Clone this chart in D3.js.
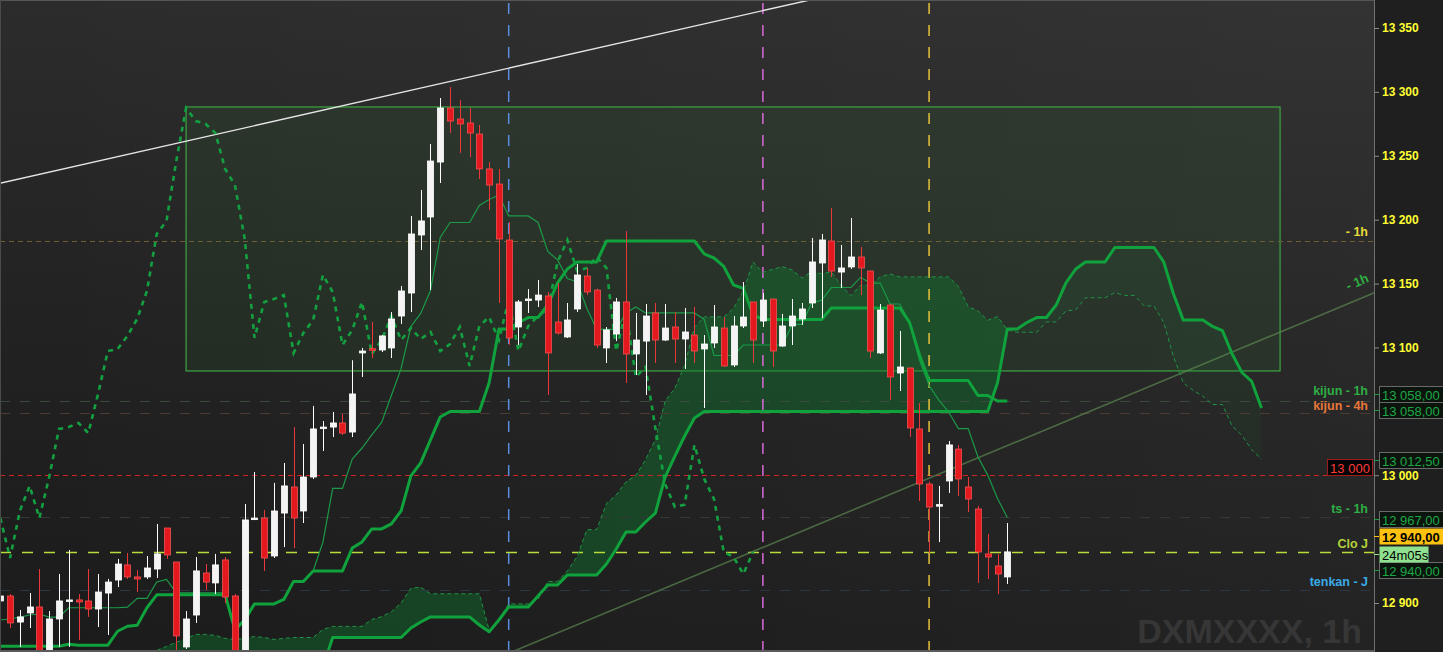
<!DOCTYPE html>
<html><head><meta charset="utf-8">
<script src="https://cdn.jsdelivr.net/npm/d3@7"></script>
<style>
html,body{margin:0;padding:0;background:#1f1f1f;overflow:hidden}
svg{display:block}
text{font-family:"Liberation Sans",Arial,sans-serif}
</style></head><body>
<svg id="chart" width="1443" height="652"></svg>
<script>
// ---- hourly candles (index 0 = first visible bar) ----
const openP = [12901.6,12905.5,12885.1,12892.2,12896.9,12858,12887.5,12902,12902.4,12901.6,
12895.3,12907.8,12918,12929.8,12920.4,12920.4,12926.6,12958.7,12932.1,12865.6,
12890.6,12923.5,12915.7,12933.7,12905.5,12846,12966,12966.5,12936.8,12970.4,
12990.8,12972,12998.6,13037,13037.7,13040.9,13033.8,13095.7,13099,13098,
13099.6,13124.6,13142.6,13188,13202.1,13245.1,13287.4,13278.8,13275.7,13267,
13239.7,13227.9,13184.1,13116,13137.5,13137.1,13140.3,13119.9,13108.2,13130.1,
13155.9,13144.9,13099.6,13110.5,13135.6,13094.9,13105,13127,13105.8,13116,
13106.6,13109.7,13098.8,13103.5,13115.2,13086.3,13116.8,13135.6,13120.7,13137.9,
13101.1,13116.8,13122.3,13134.8,13166.1,13183.3,13159,13163,13170.8,13159.8,
13095.7,13133.2,13080,13083.9,13036.2,12993.1,12976.7,12995.5,13020.5,12990.8,
12973.6,12938.4,12929,12920.4];
const highP = [12908,12907,12894.5,12907.8,12926.6,12893.7,12922.7,12941.5,12907,12926.6,
12922.7,12918.8,12934.5,12939.1,12925.8,12936.8,12961.8,12958.7,12932.1,12893.7,
12936,12930.5,12938.4,12936,12907,12977.5,13002.5,12972.8,12994,13009.6,
13037.7,13024.4,13054.2,13042.4,13049.5,13047.9,13090,13099.6,13120,13109.7,
13127.7,13148.1,13202.9,13223.2,13259.2,13295.2,13303.8,13293.7,13287.4,13274.1,
13245.1,13239.7,13198.2,13137.1,13145.7,13152.8,13143.4,13150.4,13134.8,13165.3,
13162.2,13146,13116,13138.7,13191.1,13127,13134,13134.8,13134,13127.7,
13130.9,13131.7,13109.7,13133.2,13123.8,13124.6,13151.2,13135.6,13142.6,13137.9,
13126.2,13137.9,13134.8,13185.7,13188.8,13209.1,13180.2,13201.3,13178.6,13160,
13134,13134,13112.9,13084.5,13056.5,12995,12991.6,13026.8,13023.7,12998.6,
12975.9,12954,12938.4,12962.6];
const lowP = [12896,12880.4,12865.6,12880.4,12851,12852,12865.6,12865.6,12871.1,12889.1,
12881.2,12875,12912.5,12918.8,12908.6,12918.8,12919.6,12934.5,12854,12864,
12884.4,12910.2,12907,12900,12796,12841,12965,12925.1,12935.2,12943.8,
12943,12962.6,12997.1,13019,13029.9,13031.5,13029.9,13076.9,13091.7,13096.4,
13091.7,13118.4,13127.7,13176.3,13144.9,13228.7,13267.8,13252.2,13249,13231.8,
13207.6,13134.8,13102,13101.9,13127,13131.7,13062.8,13110,13107.4,13127.7,
13141,13099.6,13087.8,13105,13072.2,13078.4,13062.8,13087.8,13105,13087.8,
13083.1,13087.8,13052.6,13099.6,13084.7,13084.7,13115.2,13087.8,13116,13084.7,
13100.4,13101.9,13117.6,13130.9,13123,13155.1,13146.5,13161.4,13141,13091.7,
13094.9,13058.9,13065.9,13030,12979.8,12939,12947.7,12986.1,12983.7,12971.2,
12915.7,12918.8,12907,12914.9];
const closeP = [12905.5,12884.4,12889.1,12896.9,12856,12887.5,12901.6,12902.4,12900.8,12895.3,
12908.6,12916.4,12930.5,12920.4,12918.8,12927.4,12938.4,12937.6,12874.2,12887.5,
12925.1,12916.4,12929.8,12904.7,12845,12965,12966.5,12935.2,12972,12991.6,
12966.5,12998.6,13036.2,13037.7,13040.9,13033,13063.6,13097.2,13098.8,13109,
13122.3,13144.2,13188.8,13199,13245.9,13287.4,13277.2,13274.9,13267.8,13239.7,
13227.1,13184.9,13107.4,13135.6,13137.9,13141,13095.7,13111.3,13121.5,13156.7,
13143.4,13101.9,13113.7,13135.6,13094.9,13105.8,13124.6,13105.8,13115.2,13106.6,
13112.1,13097.2,13102.7,13116,13085.5,13116.8,13123.8,13105.8,13137.1,13097.2,
13116.8,13124.6,13130.1,13166.9,13184.1,13159.8,13162.2,13170.8,13162.2,13097.2,
13129.3,13076.9,13084.7,13037,12993.1,12975.1,12977,13023.7,12997.1,12981.4,
12939.9,12936,12922.7,12940];

// ---- Ichimoku lines ----
const tenkan = [12886.7,12887.5,12889,12890.6,12891.4,12889,12889,12896.3,12896.3,12896.3,
12896.3,12896.3,12896.3,12896.8,12903.6,12903.6,12916.5,12918.4,12907.9,12907.9,
12907.9,12907.9,12907.9,12907.9,12878.9,12886.8,12899.3,12899.3,12899.3,12902.8,
12916.9,12916.9,12925.1,12947.6,12989.7,12989.7,13012.6,13021.3,13031.5,13041.3,
13062.4,13083.6,13116.4,13126.6,13144.6,13186.1,13197.8,13197.8,13197.8,13211.1,
13215.8,13219.3,13202.9,13202.9,13202.9,13197.8,13175.1,13168.5,13154,13151.3,
13130.5,13114.1,13114.1,13114.1,13127,13131.7,13127,13127,13127,13127,
13127,13127,13121.9,13093.7,13093.7,13093.7,13101.9,13101.9,13101.9,13101.9,
13101.9,13118,13118,13135.2,13136.8,13146.9,13146.9,13146.9,13154.8,13150.4,
13150.4,13134,13134,13119.6,13090.6,13070.2,13058.8,13049.5,13036.5,13036.5,
13014.3,13000.1,12981.8,12966.9];
const kijun = [12866.2,12866.2,12866.2,12866.2,12866.2,12866.2,12866.2,12867.7,12867,12867,
12867,12867,12877.9,12881.8,12882.5,12896.3,12906.4,12906.4,12906.4,12906.4,
12906.4,12906.4,12906.4,12906.4,12878.9,12886.8,12899.3,12899.3,12899.3,12902.8,
12916.9,12916.9,12925.1,12925.1,12925.1,12925.1,12943,12947.8,12958,12958,
12961.9,12972.1,12999.5,13009.6,13027.6,13045.6,13049.9,13049.9,13049.9,13049.9,
13072.4,13114.5,13114.5,13119.5,13123.4,13123.4,13133.2,13150.5,13161.4,13166.9,
13166.9,13166.9,13183.3,13183.3,13183.3,13183.3,13183.3,13183.3,13183.3,13183.3,
13183.3,13183.3,13173.2,13170,13163.4,13148.9,13146.2,13125.4,13121.9,13121.9,
13121.9,13121.9,13121.9,13121.9,13121.9,13130.9,13130.9,13130.9,13130.9,13130.9,
13130.9,13130.9,13130.9,13119.6,13094.5,13074.1,13074.1,13074.1,13074.1,13074.1,
13062.4,13062.4,13058.1,13058.1];
// leading spans run 26 bars past the last candle
const senkouA = [12855,12855,12855,12855,12855,12855,12855,12855,12855,12855,
12855,12855,12855,12855,12855,12855,12862.9,12866,12869.2,12872.3,
12875.4,12875.4,12874.6,12872.3,12871.5,12872.3,12873.8,12873,12871.5,12872.3,
12873,12873,12873,12879.3,12881.7,12881.7,12881.7,12881.7,12887.1,12889.3,
12893.1,12900,12911.5,12912.4,12907.2,12907.2,12907.2,12907.2,12907.2,12907.2,
12878.9,12886.8,12899.3,12899.3,12899.3,12902.8,12916.9,12916.9,12925.1,12936.4,
12957.4,12957.4,12977.8,12984.6,12994.8,12999.7,13012.2,13027.9,13058,13068.1,
13086.1,13115.9,13123.9,13123.9,13123.9,13130.5,13144.1,13166.9,13158.7,13161.2,
13163.2,13160.6,13154.2,13159.5,13157.7,13159.1,13148.7,13140.5,13148.7,13148.7,
13155.2,13157.5,13155.2,13155.2,13155.2,13155.2,13155.2,13155.2,13147.6,13131.9,
13128.6,13121.3,13124.1,13113.7,13111.9,13111.9,13111.9,13120,13120,13128.6,
13129.4,13138.9,13138.9,13138.9,13142.9,13140.7,13140.7,13132.5,13132.5,13119.6,
13092.6,13072.2,13066.5,13061.8,13055.3,13055.3,13038.4,13031.2,13020,13012.5];
const senkouB = [12845,12845,12845,12845,12845,12845,12845,12845,12845,12845,
12845,12845,12845,12845,12845,12845,12845,12845,12845,12845,
12845,12845,12845,12845,12845,12845,12845,12845,12845,12845,
12845,12845,12845,12850,12873,12873,12873,12873,12873,12873,
12873,12873,12880.4,12885.1,12889.1,12889.1,12889.1,12889.1,12889.1,12882.8,
12877.5,12886.7,12896.9,12896.9,12896.9,12905.5,12914.1,12914.1,12921.9,12921.9,
12921.9,12921.9,12930.5,12942.3,12955.6,12955.6,12963.4,12970.4,12998.6,13015,
13030.7,13044.8,13049.9,13049.9,13049.9,13049.9,13049.9,13049.9,13049.9,13049.9,
13049.9,13049.9,13049.9,13049.9,13049.9,13049.9,13049.9,13049.9,13049.9,13049.9,
13049.9,13049.9,13049.9,13049.9,13049.9,13049.9,13049.9,13049.9,13049.9,13049.9,
13049.9,13049.9,13072.4,13114.5,13114.5,13119.5,13123.4,13123.4,13133.2,13150.5,
13161.4,13166.9,13166.9,13166.9,13178.2,13178.2,13178.2,13178.2,13178.2,13166.9,
13141.8,13121.4,13121.4,13121.4,13116.4,13113.2,13094.9,13080.4,13073.4,13052.6];
const chikouShift = 26;

// ---- drawings ----
const zoneBox = [19, 130.9, 13081.6, 13288.2];          // [fromBar, toBar, low, high]
const whiteTrend = [[0, 13228.5], [82.8, 13371.9]];
const greenTrend = [[101.2, 13017.4], [140.5, 13142.6]];
const sessionBars = [52, 78, 95];
const sessionColors = ["#5a8de0", "#d86ad8", "#e8c23c"];

// horizontal levels: value, colour, dash, caption, caption colour
const levels = [
  {v: 13183.3, c: "#6e5f36", d: "5,4", t: "- 1h", tc: "#e6dc3a", ty: 232},
  {v: 13058,   c: "#3a4a3c", d: "10,10", t: "kijun - 1h", tc: "#2eae44", ty: 391},
  {v: 13049,   c: "#4e3c33", d: "10,10", t: "kijun - 4h", tc: "#e8773a", ty: 406},
  {v: 13000,   c: "#cf2424", d: "5,4",  t: null},
  {v: 12967,   c: "#363838", d: "10,10", t: "ts - 1h", tc: "#2eae44", ty: 509},
  {v: 12940,   c: "#b8dc3a", d: "11,11", t: "Clo J", tc: "#b4d23c", ty: 544, w: 1.5},
  {v: 12910.2, c: "#2c3644", d: "10,10", t: "tenkan - J", tc: "#3aaae6", ty: 582}
];
const axisTicks = [12900, 13000, 13100, 13150, 13200, 13250, 13300, 13350];

// price tags on the scale: text, centre y, style
const tags = [
  {t: "13 058,00", y: 394, k: "dark"},
  {t: "13 058,00", y: 410, k: "dark"},
  {t: "13 012,50", y: 460, k: "dark"},
  {t: "12 967,00", y: 519, k: "dark"},
  {t: "12 940,00", y: 570, k: "dark"},
  {t: "24m05s",    y: 554, k: "timer"},
  {t: "12 940,00", y: 536, k: "last"}
];

// ---- setup ----
const W = 1443, H = 652, PR = 1374, PB = 650;
const svg = d3.select("#chart");
const defs = svg.append("defs");
const x = d3.scaleLinear().domain([0, 103]).range([0.3, 1007.3]);
const y = d3.scaleLinear().domain([12900, 13350]).range([603, 28]);
const loc = d3.formatLocale({decimal: ",", thousands: " ", grouping: [3], currency: ["", ""]});
const fmtAxis = loc.format(",.0f");

const bgV = defs.append("linearGradient").attr("id", "bgV").attr("x1", 0).attr("y1", 0).attr("x2", 0).attr("y2", 1);
bgV.append("stop").attr("offset", 0).attr("stop-color", "#2c2c2c");
bgV.append("stop").attr("offset", 0.5).attr("stop-color", "#222222");
bgV.append("stop").attr("offset", 1).attr("stop-color", "#1b1b1b");
const bgH = defs.append("linearGradient").attr("id", "bgH").attr("x1", 0).attr("y1", 0).attr("x2", 1).attr("y2", 0);
bgH.append("stop").attr("offset", 0).attr("stop-color", "#ffffff").attr("stop-opacity", 0);
bgH.append("stop").attr("offset", 1).attr("stop-color", "#ffffff").attr("stop-opacity", 0.035);

defs.append("clipPath").attr("id", "plotClip").append("rect")
  .attr("x", 0).attr("y", 0).attr("width", PR).attr("height", PB);

// right scale panel
svg.append("rect").attr("x", 0).attr("y", 0).attr("width", W).attr("height", H).attr("fill", "#1f1f1f");
svg.append("rect").attr("x", 0).attr("y", 0).attr("width", PR).attr("height", PB).attr("fill", "url(#bgV)");
svg.append("rect").attr("x", 0).attr("y", 0).attr("width", PR).attr("height", PB).attr("fill", "url(#bgH)");

const plot = svg.append("g").attr("clip-path", "url(#plotClip)");

// watermark
plot.append("text").attr("x", 1362).attr("y", 643).attr("text-anchor", "end")
  .attr("font-size", 34).attr("font-weight", "bold").attr("fill", "#363636")
  .text("DXMXXXX, 1h");

// zone rectangle
plot.append("rect")
  .attr("x", x(zoneBox[0])).attr("y", y(zoneBox[3]))
  .attr("width", x(zoneBox[1]) - x(zoneBox[0])).attr("height", y(zoneBox[2]) - y(zoneBox[3]))
  .attr("fill", "rgba(70,170,70,0.09)").attr("stroke", "#3fbf45").attr("stroke-width", 1);

// cloud: span A above span B filled strongly, the reverse only faintly
const cloudIdx = d3.range(senkouA.length);
defs.append("clipPath").attr("id", "belowA").append("path")
  .attr("d", d3.area().x(i => x(i)).y0(i => y(senkouA[i])).y1(2000)(cloudIdx));
defs.append("clipPath").attr("id", "aboveA").append("path")
  .attr("d", d3.area().x(i => x(i)).y0(i => y(senkouA[i])).y1(-2000)(cloudIdx));
plot.append("g").attr("clip-path", "url(#belowA)").append("path")
  .attr("d", d3.area().x(i => x(i)).y0(i => y(senkouB[i])).y1(-2000)(cloudIdx))
  .attr("fill", "rgba(12,125,45,0.40)");
plot.append("g").attr("clip-path", "url(#aboveA)").append("path")
  .attr("d", d3.area().x(i => x(i)).y0(i => y(senkouB[i])).y1(2000)(cloudIdx))
  .attr("fill", "rgba(20,130,50,0.09)");

// horizontal levels
levels.forEach(l => {
  plot.append("line").attr("x1", 0).attr("x2", PR)
    .attr("y1", Math.round(y(l.v)) + 0.5).attr("y2", Math.round(y(l.v)) + 0.5)
    .attr("stroke", l.c).attr("stroke-width", l.w || 1).attr("stroke-dasharray", l.d);
});

// session separators
sessionBars.forEach((b, k) => {
  plot.append("line").attr("x1", x(b)).attr("x2", x(b))
    .attr("y1", 3).attr("y2", PB)
    .style("stroke", sessionColors[k]).attr("stroke-width", 1.5).attr("stroke-dasharray", "11,11");
});

// trend lines, extended across the plot
function extend(seg, from, to) {
  const [[a0, v0], [a1, v1]] = seg;
  const s = (v1 - v0) / (a1 - a0);
  return [[from, v0 + s * (from - a0)], [to, v0 + s * (to - a0)]];
}
const lineXY = d3.line().x(d => x(d[0])).y(d => y(d[1]));
plot.append("path").attr("d", lineXY(extend(whiteTrend, -3, 90)))
  .attr("stroke", "#e6e6e6").attr("stroke-width", 1.4).attr("fill", "none");
plot.append("path").attr("d", lineXY(extend(greenTrend, 40, 142)))
  .attr("stroke", "#5f8f55").attr("stroke-opacity", 0.65).attr("stroke-width", 1.6).attr("fill", "none");

// Ichimoku lines
const byIdx = arr => d3.line().x((d, i) => x(i)).y(d => y(d))(arr);
plot.append("path").attr("d", byIdx(senkouA)).attr("fill", "none")
  .attr("stroke", "#1f9446").attr("stroke-width", 1).attr("stroke-dasharray", "4,3");
plot.append("path").attr("d", byIdx(senkouB)).attr("fill", "none")
  .attr("stroke", "#10a23c").attr("stroke-width", 3).attr("stroke-linejoin", "round");
plot.append("path").attr("d", byIdx(tenkan)).attr("fill", "none")
  .attr("stroke", "#1b9a48").attr("stroke-width", 1.2);
plot.append("path").attr("d", byIdx(kijun)).attr("fill", "none")
  .attr("stroke", "#10a23c").attr("stroke-width", 3).attr("stroke-linejoin", "round");
const chikouIdx = d3.range(closeP.length - chikouShift);
plot.append("path")
  .attr("d", d3.line().x(i => x(i)).y(i => y(closeP[i + chikouShift]))(chikouIdx))
  .attr("fill", "none").attr("stroke", "#13a040").attr("stroke-width", 2.6).attr("stroke-dasharray", "5,5");

// candles
const bars = d3.range(openP.length);
const cg = plot.append("g");
bars.forEach(i => {
  const up = closeP[i] >= openP[i];
  const cx = Math.round(x(i));
  cg.append("line").attr("x1", cx + 0.5).attr("x2", cx + 0.5)
    .attr("y1", y(highP[i])).attr("y2", y(lowP[i]))
    .attr("stroke", up ? "#ffffff" : "#e8383a").attr("stroke-width", 1);
  const top = y(Math.max(openP[i], closeP[i]));
  const bot = y(Math.min(openP[i], closeP[i]));
  const h = Math.max(bot - top, 1.6);
  cg.append("rect").attr("x", cx - 2.5).attr("y", top).attr("width", 6).attr("height", h)
    .attr("fill", up ? "#f4f4f4" : "#e3191f")
    .attr("stroke", up ? "#ffffff" : "#f25252").attr("stroke-width", 0.8);
});

// level captions
const lab = svg.append("g").attr("font-size", 12.5).attr("font-weight", "bold");
levels.filter(l => l.t).forEach(l => {
  lab.append("text").attr("x", 1368).attr("y", l.ty).attr("dy", "0.35em")
    .attr("text-anchor", "end").attr("fill", l.tc).text(l.t);
});
// round-number tag
const tag13k = svg.append("g");
tag13k.append("rect").attr("x", 1327.5).attr("y", 459.5).attr("width", 45).attr("height", 16)
  .attr("fill", "#050505").attr("stroke", "#a01c1c");
tag13k.append("text").attr("x", 1350).attr("y", 468).attr("dy", "0.35em").attr("text-anchor", "middle")
  .attr("font-size", 13).attr("fill", "#ff3a3a").text(fmtAxis(13000));

// caption along the rising trend line
const gA = [x(greenTrend[0][0]), y(greenTrend[0][1])], gB = [x(greenTrend[1][0]), y(greenTrend[1][1])];
const ang = Math.atan2(gB[1] - gA[1], gB[0] - gA[0]) * 180 / Math.PI;
svg.append("text").attr("transform", `translate(1359,286) rotate(${ang})`)
  .attr("text-anchor", "middle").attr("font-size", 13).attr("font-weight", "bold")
  .attr("fill", "#2fae42").text("- 1h");

// frame
svg.append("line").attr("x1", 0).attr("x2", PR).attr("y1", 0.5).attr("y2", 0.5).attr("stroke", "#555");
svg.append("line").attr("x1", 0.5).attr("x2", 0.5).attr("y1", 0).attr("y2", PB).attr("stroke", "#4a4a4a");
svg.append("rect").attr("x", 0).attr("y", PB).attr("width", PR + 1).attr("height", 2).attr("fill", "#5a5a5a");

// price scale
const axisG = svg.append("g").attr("transform", `translate(${PR},0)`)
  .call(d3.axisRight(y).tickValues(axisTicks).tickSize(5).tickPadding(3).tickFormat(fmtAxis));
axisG.select(".domain").attr("stroke", "#707070").attr("d", `M0.5,0V${H}`);
axisG.selectAll(".tick line").attr("stroke", "#8a8a8a");
axisG.selectAll(".tick text").attr("fill", "#ffff33").attr("font-size", 12).attr("font-weight", "bold")
  .attr("font-family", "Liberation Sans, Arial, sans-serif");

// price tags
const tg = svg.append("g").attr("font-size", 13);
tags.forEach(t => {
  const w = t.k === "timer" ? 49 : 64;
  const fill = t.k === "last" ? "#ffc20e" : t.k === "timer" ? "#8fe08f" : "#0b150d";
  const stroke = t.k === "dark" ? "#6a6a6a" : "none";
  tg.append("line").attr("x1", PR).attr("x2", PR + 5).attr("y1", t.y + 0.5).attr("y2", t.y + 0.5)
    .attr("stroke", t.k === "dark" ? "#1f9a40" : fill);
  tg.append("rect").attr("x", PR + 5.5).attr("y", t.y - 7.5).attr("width", w).attr("height", 16)
    .attr("fill", fill).attr("stroke", stroke);
  tg.append("text").attr("x", PR + 8).attr("y", t.y + 1).attr("dy", "0.35em")
    .attr("fill", t.k === "dark" ? "#1ea646" : "#000")
    .attr("font-weight", t.k === "last" ? "bold" : "normal").text(t.t);
});
</script>
</body></html>
